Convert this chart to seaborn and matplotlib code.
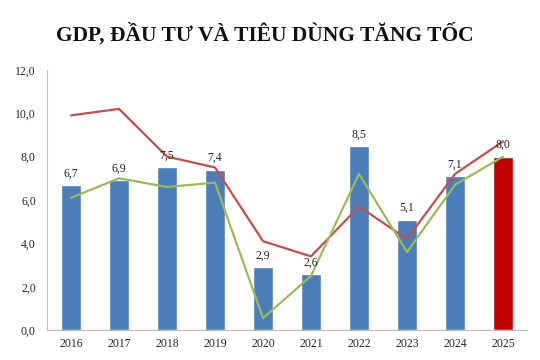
import numpy as np
import pandas as pd
import matplotlib
matplotlib.use("Agg")
import matplotlib.pyplot as plt
import seaborn as sns
from matplotlib.ticker import FixedLocator, FuncFormatter

years = ["2016", "2017", "2018", "2019", "2020", "2021", "2022", "2023", "2024", "2025"]
gdp = [6.7, 6.9, 7.5, 7.4, 2.9, 2.6, 8.5, 5.1, 7.1, 8.0]
investment = [9.9, 10.2, 8.0, 7.5, 4.1, 3.4, 5.7, 4.2, 7.2, 8.7]
consumption = [6.1, 7.0, 6.6, 6.8, 0.55, 2.5, 7.2, 3.6, 6.7, 8.0]
bar_labels = ["6,7", "6,9", "7,5", "7,4", "2,9", "2,6", "8,5", "5,1", "7,1", "8,0"]
title = "GDP, ĐẦU TƯ VÀ TIÊU DÙNG TĂNG TỐC"

sns.set_style("white")
plt.rcParams['font.family'] = ['Liberation Serif', 'DejaVu Serif']

fig = plt.figure(figsize=(5.4, 3.6), dpi=100)
ax = fig.add_axes([0.087, 0.083, 0.889, 0.723])

bar_colors = ["#4A7EBB"] * 9 + ["#C00000"]
df = pd.DataFrame({"year": years, "gdp": gdp})
sns.barplot(data=df, x="year", y="gdp", hue="year", palette=bar_colors,
            legend=False, width=0.42, saturation=1, ax=ax)

xs = np.arange(len(years))
sns.lineplot(x=xs, y=investment, color="#C0504D", linewidth=1.6, ax=ax)
sns.lineplot(x=xs, y=consumption, color="#9BBB59", linewidth=1.6, ax=ax)

for x, v, lab in zip(xs, gdp, bar_labels):
    ax.text(x, v + 0.25, lab, ha="center", va="bottom", fontsize=8.5, color="#222222")

ax.set_xlim(-0.5, len(years) - 0.5)
ax.set_ylim(0, 12)
ax.set_yticks(np.arange(0, 12.1, 2))
ax.yaxis.set_major_formatter(FuncFormatter(lambda v, p: f"{v:.1f}".replace(".", ",")))
ax.xaxis.set_minor_locator(FixedLocator(np.arange(-0.5, len(years), 1)))
ax.tick_params(axis="x", which="major", length=0, labelsize=8.5, pad=6)
ax.tick_params(axis="x", which="minor", length=4, color="#aaaaaa", direction="out")
ax.tick_params(axis="y", which="major", length=0, labelsize=8.5, pad=8)
ax.set_xlabel("")
ax.set_ylabel("")

for s in ["top", "right"]:
    ax.spines[s].set_visible(False)
for s in ["left", "bottom"]:
    ax.spines[s].set_color("#bbbbbb")
    ax.spines[s].set_linewidth(0.8)

fig.text(0.49, 0.905, title, ha="center", va="center", fontsize=15.5, fontweight="bold",
         color="#111111")

fig.savefig("out.png", dpi=100, facecolor="white")
